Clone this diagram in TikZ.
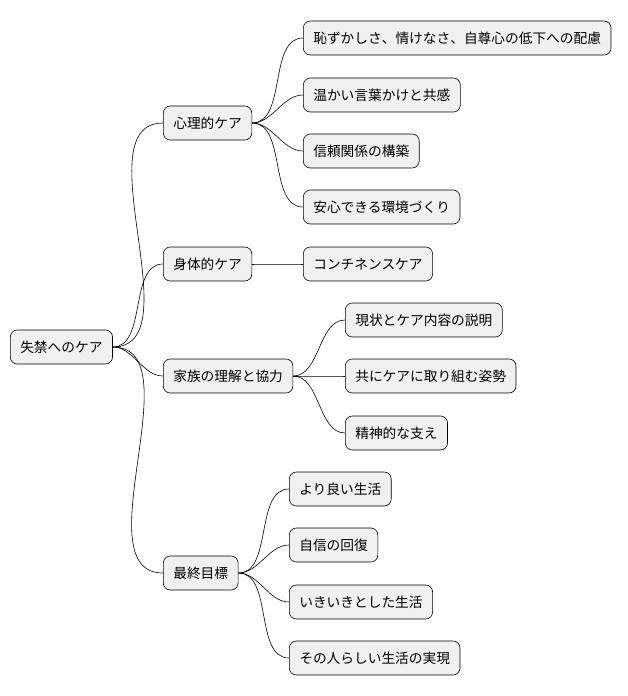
\documentclass[tikz,border=0pt]{standalone}
\usepackage{fontspec}
\setmainfont{Noto Sans CJK JP}
\usetikzlibrary{positioning}
\tikzset{
  topic/.style={draw=black, fill=gray!12, rounded corners=7pt, line width=0.6pt,
    minimum height=34pt, inner xsep=10pt, anchor=west,
    font=\fontsize{13.7}{16}\selectfont},
  branch/.style={line width=0.6pt, out=0, in=180, looseness=0.9}
}
\begin{document}
\begin{tikzpicture}[x=1pt, y=-1pt]
\useasboundingbox (0,0) rectangle (628,696);
% root and first level
\node[topic] (root) at (10,347) {失禁へのケア};
\node[topic] (mind) at (163,123) {心理的ケア};
\node[topic] (body) at (163,264) {身体的ケア};
\node[topic] (family) at (163,376) {家族の理解と協力};
\node[topic] (goal) at (163,573) {最終目標};
% second level
\node[topic] (m1) at (303,38) {恥ずかしさ、情けなさ、自尊心の低下への配慮};
\node[topic] (m2) at (303,95) {温かい言葉かけと共感};
\node[topic] (m3) at (303,151) {信頼関係の構築};
\node[topic] (m4) at (303,207) {安心できる環境づくり};
\node[topic] (b1) at (303,264) {コンチネンスケア};
\node[topic] (f1) at (345,320) {現状とケア内容の説明};
\node[topic] (f2) at (345,376) {共にケアに取り組む姿勢};
\node[topic] (f3) at (345,433) {精神的な支え};
\node[topic] (g1) at (289,489) {より良い生活};
\node[topic] (g2) at (289,545) {自信の回復};
\node[topic] (g3) at (289,602) {いきいきとした生活};
\node[topic] (g4) at (289,658) {その人らしい生活の実現};
% connectors
\foreach \c in {mind,body,family,goal}
  \draw[branch] (root.east) to (\c.west);
\foreach \c in {m1,m2,m3,m4}
  \draw[branch] (mind.east) to (\c.west);
\draw[branch] (body.east) to (b1.west);
\foreach \c in {f1,f2,f3}
  \draw[branch] (family.east) to (\c.west);
\foreach \c in {g1,g2,g3,g4}
  \draw[branch] (goal.east) to (\c.west);
\end{tikzpicture}
\end{document}
